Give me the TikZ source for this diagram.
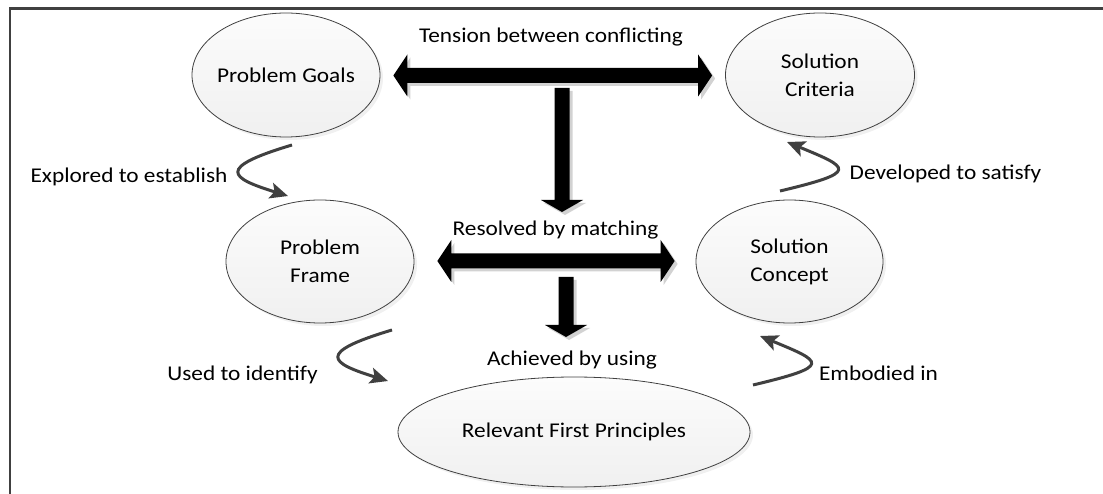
\documentclass[tikz,border=0pt]{standalone}
\usepackage{fontspec}
\setmainfont{Carlito}[FakeStretch=1.11]
\usetikzlibrary{shapes.geometric, arrows.meta, calc, shadows}

\definecolor{inkgray}{HTML}{404040}
\definecolor{bubbletop}{HTML}{FCFCFC}
\definecolor{bubblebot}{HTML}{F0F0F0}
\definecolor{blockshade}{HTML}{D2D2D2}

\tikzset{
  bubble/.style={ellipse, draw=inkgray, line width=0.8pt,
    top color=bubbletop, bottom color=bubblebot, inner sep=0pt,
    drop shadow={shadow xshift=3pt, shadow yshift=-3pt, opacity=0.12}},
  bubbletext/.style={font=\fontsize{21}{28}\selectfont, align=center, inner sep=0pt},
  caption/.style={font=\fontsize{21}{28}\selectfont, anchor=base, inner sep=0pt},
  flow/.style={draw=inkgray, line width=3pt,
    -{Stealth[length=18pt,width=16pt,inset=4pt]}},
  framerule/.style={draw=inkgray, line width=2.2pt},
}

% two-headed block arrow: left tip, right tip, colour, offset
\newcommand\twowayblock[4]{%
  \fill[#3] let \p1=($(#1)+(#4)$), \p2=($(#2)+(#4)$) in
    (\x1,\y1) -- (\x1+14pt,\y1+21pt) -- (\x1+14pt,\y1+7.5pt)
    -- (\x2-14pt,\y1+7.5pt) -- (\x2-14pt,\y1+21pt) -- (\x2,\y1)
    -- (\x2-14pt,\y1-21pt) -- (\x2-14pt,\y1-7.5pt)
    -- (\x1+14pt,\y1-7.5pt) -- (\x1+14pt,\y1-21pt) -- cycle;}

% downward block arrow: tail, tip, colour, offset
\newcommand\downblock[4]{%
  \fill[#3] let \p1=($(#1)+(#4)$), \p2=($(#2)+(#4)$) in
    (\x1-7.5pt,\y1) -- (\x1+7.5pt,\y1) -- (\x1+7.5pt,\y2+12pt)
    -- (\x1+21pt,\y2+12pt) -- (\x1,\y2) -- (\x1-21pt,\y2+12pt)
    -- (\x1-7.5pt,\y2+12pt) -- cycle;}

\begin{document}
\begin{tikzpicture}[x=1pt, y=-1pt]
  \useasboundingbox (0,0) rectangle (1103,494);

  % outer frame (top and left rules)
  \draw[framerule] (10,494) -- (10,8.5) -- (1103,8.5);

  % concept bubbles
  \node[bubble, minimum width=188pt, minimum height=124pt] (pg)  at (286,75) {};
  \node[bubble, minimum width=189pt, minimum height=124pt] (sc)  at (820,75) {};
  \node[bubble, minimum width=188pt, minimum height=123pt] (pf)  at (320,261.5) {};
  \node[bubble, minimum width=187pt, minimum height=123pt] (sco) at (789.5,261.5) {};
  \node[bubble, minimum width=352pt, minimum height=110pt] (rfp) at (574,432) {};

  \node[bubbletext] (pgt)  at (pg)  {Problem Goals};
  \node[bubbletext] (sct)  at (sc)  {Solution\\Criteria};
  \node[bubbletext] (pft)  at (pf)  {Problem\\Frame};
  \node[bubbletext] (scot) at (sco) {Solution\\Concept};
  \node[bubbletext] (rfpt) at (rfp) {Relevant First Principles};

  % block arrow end points
  \coordinate (ta1) at ($(pg.east)+(13,0.5)$);
  \coordinate (ta2) at ($(sc.west)+(-13,0.5)$);
  \coordinate (tb1) at ($(pf.east)+(23,-0.5)$);
  \coordinate (tb2) at ($(sco.west)+(-21,-0.5)$);
  \coordinate (va1) at (562,88);
  \coordinate (va2) at (562,212);
  \coordinate (vb1) at (566,277);
  \coordinate (vb2) at (566,337);

  % block arrows: soft shadow first, then the black body
  \twowayblock{ta1}{ta2}{blockshade}{3,3}
  \twowayblock{tb1}{tb2}{blockshade}{3,3}
  \downblock{va1}{va2}{blockshade}{3,3}
  \downblock{vb1}{vb2}{blockshade}{3,3}
  \twowayblock{ta1}{ta2}{black}{0,0}
  \twowayblock{tb1}{tb2}{black}{0,0}
  \downblock{va1}{va2}{black}{0,0}
  \downblock{vb1}{vb2}{black}{0,0}

  % curved flow arrows
  \coordinate (e1a) at (292,145);   \coordinate (e1b) at (288,196);
  \coordinate (e2a) at (780,191);   \coordinate (e2b) at (787,142);
  \coordinate (e3a) at (392,330);   \coordinate (e3b) at (388,381);
  \coordinate (e4a) at (753,385);   \coordinate (e4b) at (760,336);
  \draw[flow] (e1a) .. controls +(-77,23) and +(-58,-18) .. (e1b);
  \draw[flow] (e2a) .. controls +(80,-19) and +(63,26) .. (e2b);
  \draw[flow] (e3a) .. controls +(-77,23) and +(-58,-18) .. (e3b);
  \draw[flow] (e4a) .. controls +(80,-19) and +(63,26) .. (e4b);

  % captions
  \node[caption] (lt) at (551,42.6)  {Tension between conflicting};
  \node[caption] (lr) at (555.5,236) {Resolved by matching};
  \node[caption] (la) at (572,365)   {Achieved by using};
  \node[caption] (le) at (129,182.7) {Explored to establish};
  \node[caption] (ld) at (945.5,180) {Developed to satisfy};
  \node[caption] (lu) at (242.5,380) {Used to identify};
  \node[caption] (lm) at (878.5,380) {Embodied in};
\end{tikzpicture}
\end{document}
